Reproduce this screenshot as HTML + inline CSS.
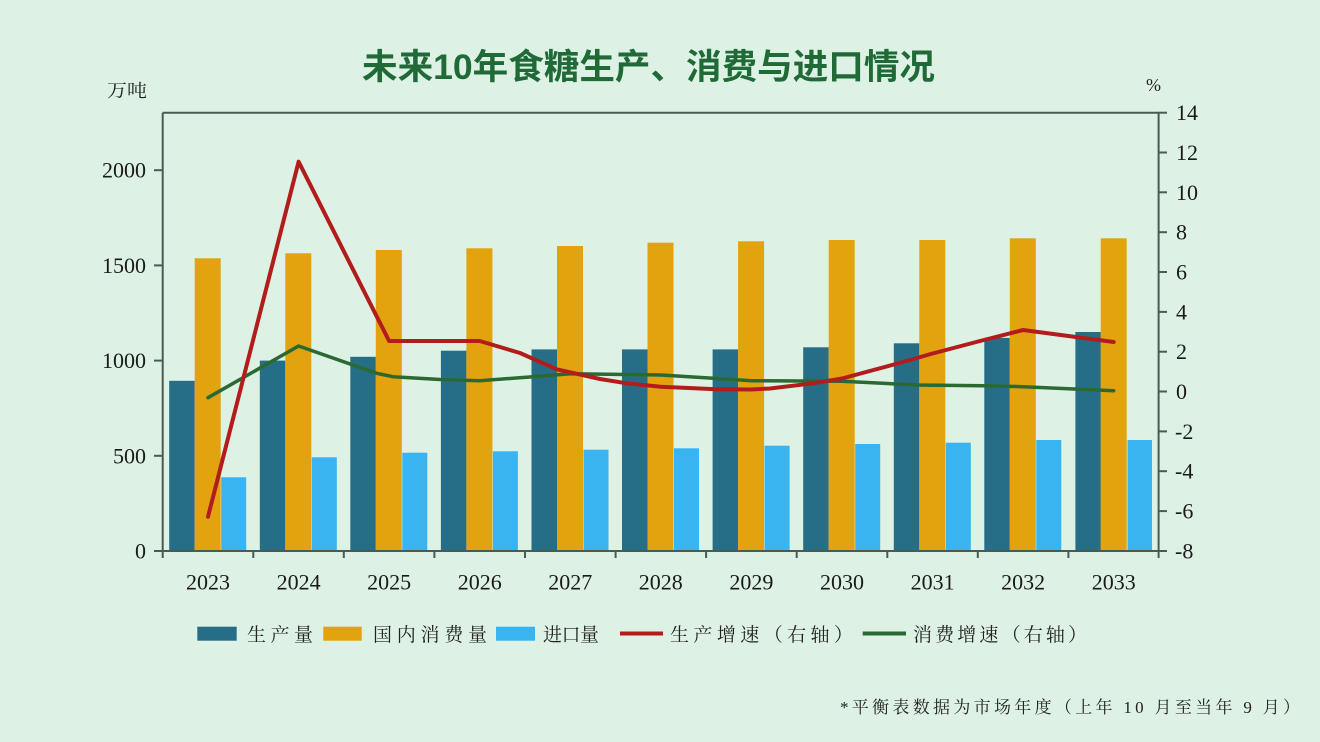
<!DOCTYPE html>
<html>
<head>
<meta charset="utf-8">
<style>
html,body{margin:0;padding:0;background:#ddf2e4;}
svg{display:block;}
</style>
</head>
<body>
<svg width="1320" height="742" viewBox="0 0 1320 742" xmlns="http://www.w3.org/2000/svg">
<rect x="0" y="0" width="1320" height="742" fill="#ddf2e4"/>

<!-- Title -->
<text x="362" y="79" font-family="'Liberation Sans','Noto Sans CJK SC',sans-serif" font-size="35" font-weight="700" fill="#1f6a37" textLength="573" lengthAdjust="spacingAndGlyphs">未来10年食糖生产、消费与进口情况</text>

<!-- Axis unit labels -->
<text x="107" y="97" font-family="'Liberation Serif','Noto Serif CJK SC',serif" font-size="18" fill="#222" textLength="40" lengthAdjust="spacingAndGlyphs">万吨</text>
<text x="1146" y="91" font-family="'Liberation Serif',serif" font-size="18" fill="#222">%</text>

<!-- Bars: 生产量 -->
<g fill="#266e87">
<rect x="169.2" y="380.8" width="25.5" height="170.2"/>
<rect x="259.8" y="360.6" width="25.5" height="190.4"/>
<rect x="350.3" y="356.8" width="25.5" height="194.2"/>
<rect x="440.9" y="350.7" width="25.5" height="200.3"/>
<rect x="531.5" y="349.4" width="25.5" height="201.6"/>
<rect x="622.0" y="349.4" width="25.5" height="201.6"/>
<rect x="712.6" y="349.4" width="25.5" height="201.6"/>
<rect x="803.2" y="347.3" width="25.5" height="203.7"/>
<rect x="893.8" y="343.3" width="25.5" height="207.7"/>
<rect x="984.3" y="337.9" width="25.5" height="213.1"/>
<rect x="1075.4" y="332.0" width="25.5" height="219.0"/>
</g>
<!-- Bars: 国内消费量 -->
<g fill="#e2a30f">
<rect x="194.7" y="258.3" width="26" height="292.7"/>
<rect x="285.3" y="253.3" width="26" height="297.7"/>
<rect x="375.8" y="250.0" width="26" height="301.0"/>
<rect x="466.4" y="248.3" width="26" height="302.7"/>
<rect x="557.0" y="246.0" width="26" height="305.0"/>
<rect x="647.5" y="242.7" width="26" height="308.3"/>
<rect x="738.1" y="241.3" width="26" height="309.7"/>
<rect x="828.7" y="240.0" width="26" height="311.0"/>
<rect x="919.3" y="240.0" width="26" height="311.0"/>
<rect x="1009.8" y="238.3" width="26" height="312.7"/>
<rect x="1100.7" y="238.3" width="26" height="312.7"/>
</g>
<!-- Bars: 进口量 -->
<g fill="#39b4f1">
<rect x="221.2" y="477.3" width="25" height="73.7"/>
<rect x="311.8" y="457.3" width="25" height="93.7"/>
<rect x="402.3" y="452.7" width="25" height="98.3"/>
<rect x="492.9" y="451.3" width="25" height="99.7"/>
<rect x="583.5" y="449.7" width="25" height="101.3"/>
<rect x="674.0" y="448.3" width="25" height="102.7"/>
<rect x="764.6" y="445.7" width="25" height="105.3"/>
<rect x="855.2" y="444.0" width="25" height="107.0"/>
<rect x="945.8" y="442.7" width="25" height="108.3"/>
<rect x="1036.3" y="440.0" width="25" height="111.0"/>
<rect x="1127.5" y="440.0" width="24.5" height="111.0"/>
</g>

<!-- Lines -->
<polyline fill="none" stroke="#2a6a32" stroke-width="3.5" stroke-linejoin="round" stroke-linecap="round"
 points="208,397.7 298.6,346 376.7,373.3 393,376.7 440,379.5 479.7,380.7 533,376.7 570.3,373.8 660.8,375 713.3,378.3 751.4,380.7 842,381.3 916.7,385 983,385.7 1023.1,386.7 1113.7,390.7"/>
<polyline fill="none" stroke="#b31c1c" stroke-width="4" stroke-linejoin="round" stroke-linecap="round"
 points="208,516.7 298.6,161.7 389.1,341 479.7,341 520,353 556.7,369.3 600,379 626.7,383.3 660.8,386.7 716.7,389.3 751.4,389.5 770,388.5 813,383.3 842,378.5 903,362 932.6,353.5 980,341 1023.1,330 1113.7,342"/>

<!-- Axes frame -->
<g stroke="#4a5b53" stroke-width="2" fill="none">
<line x1="162.7" y1="112.7" x2="1159" y2="112.7"/>
<line x1="162.7" y1="112.7" x2="162.7" y2="551"/>
<line x1="1158.6" y1="112.7" x2="1158.6" y2="551"/>
<line x1="162.7" y1="551" x2="1159" y2="551"/>
<!-- left ticks -->
<line x1="154" y1="551" x2="162.7" y2="551"/>
<line x1="154" y1="455.8" x2="162.7" y2="455.8"/>
<line x1="154" y1="360.6" x2="162.7" y2="360.6"/>
<line x1="154" y1="265.4" x2="162.7" y2="265.4"/>
<line x1="154" y1="170.2" x2="162.7" y2="170.2"/>
<!-- right ticks -->
<line x1="1158.6" y1="112.7" x2="1167" y2="112.7"/>
<line x1="1158.6" y1="152.5" x2="1167" y2="152.5"/>
<line x1="1158.6" y1="192.3" x2="1167" y2="192.3"/>
<line x1="1158.6" y1="232.2" x2="1167" y2="232.2"/>
<line x1="1158.6" y1="272.0" x2="1167" y2="272.0"/>
<line x1="1158.6" y1="311.9" x2="1167" y2="311.9"/>
<line x1="1158.6" y1="351.7" x2="1167" y2="351.7"/>
<line x1="1158.6" y1="391.5" x2="1167" y2="391.5"/>
<line x1="1158.6" y1="431.4" x2="1167" y2="431.4"/>
<line x1="1158.6" y1="471.2" x2="1167" y2="471.2"/>
<line x1="1158.6" y1="511.1" x2="1167" y2="511.1"/>
<line x1="1158.6" y1="551" x2="1167" y2="551"/>
<!-- bottom ticks -->
<line x1="162.7" y1="551" x2="162.7" y2="558"/>
<line x1="253.3" y1="551" x2="253.3" y2="558"/>
<line x1="343.8" y1="551" x2="343.8" y2="558"/>
<line x1="434.4" y1="551" x2="434.4" y2="558"/>
<line x1="525.0" y1="551" x2="525.0" y2="558"/>
<line x1="615.6" y1="551" x2="615.6" y2="558"/>
<line x1="706.1" y1="551" x2="706.1" y2="558"/>
<line x1="796.7" y1="551" x2="796.7" y2="558"/>
<line x1="887.3" y1="551" x2="887.3" y2="558"/>
<line x1="977.8" y1="551" x2="977.8" y2="558"/>
<line x1="1068.4" y1="551" x2="1068.4" y2="558"/>
<line x1="1158.6" y1="551" x2="1158.6" y2="558"/>
</g>

<!-- Left tick labels -->
<g font-family="'Liberation Serif',serif" font-size="22" fill="#1a1a1a" text-anchor="end">
<text x="146" y="558.5">0</text>
<text x="146" y="463.3">500</text>
<text x="146" y="368.1">1000</text>
<text x="146" y="272.9">1500</text>
<text x="146" y="177.7">2000</text>
</g>
<!-- Right tick labels -->
<g font-family="'Liberation Serif',serif" font-size="22" fill="#1a1a1a">
<text x="1176" y="120.2">14</text>
<text x="1176" y="160.0">12</text>
<text x="1176" y="199.8">10</text>
<text x="1176" y="239.7">8</text>
<text x="1176" y="279.5">6</text>
<text x="1176" y="319.4">4</text>
<text x="1176" y="359.2">2</text>
<text x="1176" y="399.0">0</text>
<text x="1175" y="438.9">-2</text>
<text x="1175" y="478.7">-4</text>
<text x="1175" y="518.6">-6</text>
<text x="1175" y="558.5">-8</text>
</g>
<!-- X labels -->
<g font-family="'Liberation Serif',serif" font-size="22" fill="#1a1a1a" text-anchor="middle">
<text x="208" y="589.5">2023</text>
<text x="298.6" y="589.5">2024</text>
<text x="389.1" y="589.5">2025</text>
<text x="479.7" y="589.5">2026</text>
<text x="570.3" y="589.5">2027</text>
<text x="660.8" y="589.5">2028</text>
<text x="751.4" y="589.5">2029</text>
<text x="842" y="589.5">2030</text>
<text x="932.6" y="589.5">2031</text>
<text x="1023.1" y="589.5">2032</text>
<text x="1113.7" y="589.5">2033</text>
</g>

<!-- Legend -->
<rect x="197.3" y="626.7" width="39.4" height="14" fill="#266e87"/>
<rect x="323.3" y="626.7" width="38.4" height="14" fill="#e2a30f"/>
<rect x="496" y="626.7" width="39" height="14" fill="#39b4f1"/>
<line x1="620" y1="633.5" x2="663" y2="633.5" stroke="#b31c1c" stroke-width="4"/>
<line x1="862.7" y1="633.5" x2="906" y2="633.5" stroke="#2a6a32" stroke-width="4"/>
<g font-family="'Liberation Serif','Noto Serif CJK SC',serif" font-size="19" fill="#222" lengthAdjust="spacing">
<text x="247" y="641" textLength="66">生产量</text>
<text x="373" y="641" textLength="114">国内消费量</text>
<text x="543" y="641" textLength="56">进口量</text>
<text x="670" y="641" textLength="183">生产增速（右轴）</text>
<text x="913" y="641" textLength="174">消费增速（右轴）</text>
</g>

<!-- Footnote -->
<text x="840" y="713" font-family="'Liberation Serif','Noto Serif CJK SC',serif" font-size="17" fill="#222" textLength="460" lengthAdjust="spacing">*平衡表数据为市场年度（上年 10 月至当年 9 月）</text>
</svg>
</body>
</html>
